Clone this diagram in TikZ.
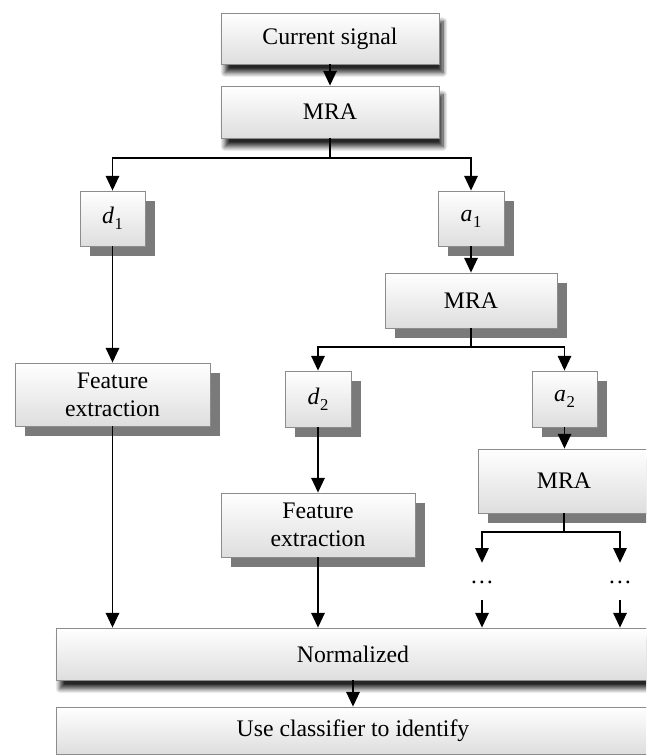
\documentclass[tikz,border=0pt]{standalone}
\usepackage{fontspec}
\setmainfont{Liberation Serif}
\usetikzlibrary{arrows.meta,shadows,shadows.blur}

% one unit = one pixel of the 646 x 756 layout (y grows downwards)
\tikzset{
  x=0.75pt, y=-0.75pt,
  wh/.style 2 args={minimum width=#1*0.75pt, minimum height=#2*0.75pt},
  box/.style={draw=black!45, line width=0.6pt, top color=white, bottom color=black!13,
    align=center, inner sep=0pt, font=\fontsize{17.8}{21}\selectfont},
  solidshadow/.style={drop shadow={shadow xshift=7.5pt, shadow yshift=-7.5pt,
    fill=black!52, opacity=1}},
  softshadow/.style={blur shadow={shadow xshift=3pt, shadow yshift=-6.5pt,
    shadow blur radius=3.5pt, shadow blur steps=10, shadow opacity=85}},
  conn/.style={line width=1.3pt, -{Triangle[length=11pt,width=10pt]}},
  wire/.style={line width=1.3pt},
  dotsnode/.style={inner sep=0pt, minimum height=37*0.75pt, font=\fontsize{17.8}{21}\selectfont},
}
\newcommand\idx[2]{\textit{#1}\kern0.5pt\raisebox{-0.25em}{\fontsize{12.5}{12.5}\selectfont #2}}

\begin{document}
\begin{tikzpicture}
\path[use as bounding box, clip] (0,0) rectangle (646,756);

% boxes
\node[box, softshadow, wh={218}{51}] (sig)  at (330,38.5)  {Current signal};
\node[box, softshadow, wh={218}{52}] (mra1) at (330,112)   {MRA};
\node[box, solidshadow, wh={65}{55}] (d1)   at (112.5,218.5) {\idx{d}{1}};
\node[box, solidshadow, wh={66}{55}] (a1)   at (471,218.5) {\idx{a}{1}};
\node[box, solidshadow, wh={172}{55}] (mra2) at (471,300.5) {MRA};
\node[box, solidshadow, wh={195}{63}] (fe1) at (112.5,394.5) {Feature\\extraction};
\node[box, solidshadow, wh={66}{56}] (d2)   at (318,399)   {\idx{d}{2}};
\node[box, solidshadow, wh={65}{56}] (a2)   at (564.5,399) {\idx{a}{2}};
\node[box, solidshadow, wh={194}{64}] (fe2) at (318,525)   {Feature\\extraction};
\node[box, solidshadow, wh={172}{64}] (mra3) at (564,481)  {MRA};
\node[box, softshadow, wh={594}{52}] (norm) at (353,654)   {Normalized};
\node[box, wh={594}{47}] (cls) at (353,730.5) {Use classifier to identify};

% continuation marks below the third MRA
\node[dotsnode] (dl) at (482,581.5) {\raisebox{-0.2em}{\textellipsis}};
\node[dotsnode] (dr) at (620,581.5) {\raisebox{-0.2em}{\textellipsis}};

% connectors
\draw[conn] (sig) -- (mra1);
\draw[wire] (mra1.south) -- (330,158) coordinate (s1);
\draw[conn] (s1) -| (d1.north);
\draw[conn] (s1) -| (a1.north);
\draw[conn] (d1) -- (fe1);
\draw[conn] (a1) -- (mra2);
\draw[wire] (mra2.south) -- (471,347) coordinate (s2);
\draw[conn] (s2) -| (d2.north);
\draw[conn] (s2) -| (a2.north);
\draw[conn] (d2) -- (fe2);
\draw[conn] (a2) -- (a2 |- mra3.north);
\draw[wire] (mra3.south) -- (564,532) coordinate (s3);
\draw[conn] (s3) -| (dl.north);
\draw[conn] (s3) -| (dr.north);
\draw[conn] (fe1.south) -- (fe1.south |- norm.north);
\draw[conn] (fe2.south) -- (fe2.south |- norm.north);
\draw[conn] (dl.south) -- (dl.south |- norm.north);
\draw[conn] (dr.south) -- (dr.south |- norm.north);
\draw[conn] (norm) -- (cls);
\end{tikzpicture}
\end{document}
